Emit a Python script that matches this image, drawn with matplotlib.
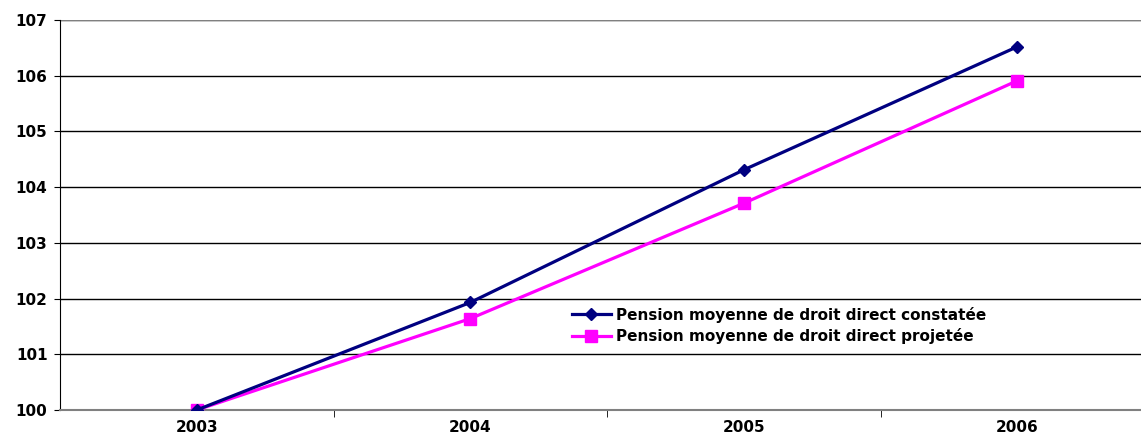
import matplotlib

matplotlib.use("Agg")
import matplotlib.pyplot as plt
from matplotlib.ticker import FixedLocator

YEARS = ["2003", "2004", "2005", "2006"]
CONSTATEE = [100.0, 101.93, 104.31, 106.52]
PROJETEE = [100.0, 101.64, 103.71, 105.91]

NAVY = "#000080"
MAGENTA = "#ff00ff"

plt.rcParams.update({
    "font.family": ["DejaVu Sans"],
    "font.size": 11,
    "font.weight": "bold",
})

fig = plt.figure(figsize=(11.41, 4.34), dpi=100)
ax = fig.add_axes([60 / 1141, 1 - 410 / 434, 1094 / 1141, 390 / 434])

x = list(range(len(YEARS)))
ax.plot(x, CONSTATEE, color=NAVY, linewidth=2.3, marker="D", markersize=6,
        label="Pension moyenne de droit direct constatée", zorder=4)
ax.plot(x, PROJETEE, color=MAGENTA, linewidth=2.3, marker="s", markersize=8,
        label="Pension moyenne de droit direct projetée", zorder=3)

ax.set_xlim(-0.5, len(YEARS) - 0.5)
ax.set_ylim(100, 107)
ax.set_yticks(range(100, 108))
ax.set_xticks(x)
ax.set_xticklabels(YEARS, fontweight="bold")
ax.xaxis.set_minor_locator(FixedLocator([i + 0.5 for i in range(len(YEARS) - 1)]))
ax.tick_params(axis="x", which="major", length=0, pad=7)
ax.tick_params(axis="x", which="minor", length=5, direction="out", color="black")
ax.tick_params(axis="y", length=4, direction="out", pad=5)
for lbl in ax.get_yticklabels():
    lbl.set_fontweight("bold")

ax.grid(axis="y", color="black", linewidth=1.0)
ax.set_axisbelow(True)
for side in ("top", "right"):
    ax.spines[side].set_visible(False)
ax.spines["left"].set_color("black")
ax.spines["bottom"].set_color("#808080")
ax.spines["bottom"].set_linewidth(1.5)
ax.axhline(107, color="#808080", linewidth=1.5, zorder=1)

ax.legend(loc="upper left", bbox_to_anchor=(0.455, 0.30), frameon=False,
          handlelength=2.6, handletextpad=0.3, labelspacing=0.35,
          prop={"weight": "bold", "size": 11})

fig.savefig("out.png", dpi=100)
